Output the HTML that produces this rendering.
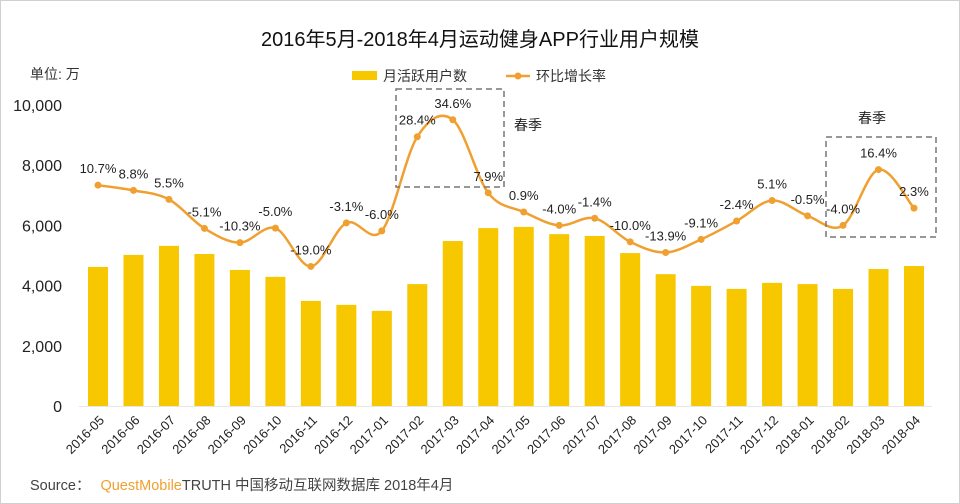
<!DOCTYPE html>
<html><head><meta charset="utf-8"><style>
body{margin:0;background:#fff;}
svg{display:block;font-family:"Liberation Sans","Noto Sans CJK SC",sans-serif;}
</style></head><body>
<svg id="c" width="960" height="504">
<rect x="0.5" y="0.5" width="959" height="503" fill="#fff" stroke="#d0d0d0"/>
<text x="480" y="46" text-anchor="middle" font-size="20" fill="#111">2016年5月-2018年4月运动健身APP行业用户规模</text>
<text x="30" y="79" font-size="14" fill="#333">单位: 万</text>
<g>
<rect x="352" y="71" width="25" height="9" fill="#f7c700"/>
<text x="383" y="81" font-size="14" fill="#333">月活跃用户数</text>
<line x1="506" y1="76" x2="530" y2="76" stroke="#f0a030" stroke-width="2.5"/>
<circle cx="518" cy="76" r="3.5" fill="#f0a030"/>
<text x="536" y="81" font-size="14" fill="#333">环比增长率</text>
</g>
<g id="g"></g>
<text x="30" y="490" font-size="14.5" fill="#444">Source：<tspan fill="#f0a030" dx="10">QuestMobile</tspan><tspan>TRUTH 中国移动互联网数据库 2018年4月</tspan></text>
</svg>
<script>
const categories=["2016-05","2016-06","2016-07","2016-08","2016-09","2016-10","2016-11","2016-12","2017-01","2017-02","2017-03","2017-04","2017-05","2017-06","2017-07","2017-08","2017-09","2017-10","2017-11","2017-12","2018-01","2018-02","2018-03","2018-04"];
const mau=[4620,5020,5320,5050,4520,4290,3490,3360,3160,4050,5480,5910,5950,5710,5650,5080,4380,3990,3890,4090,4050,3890,4550,4650];
const growth=[10.7,8.8,5.5,-5.1,-10.3,-5.0,-19.0,-3.1,-6.0,28.4,34.6,7.9,0.9,-4.0,-1.4,-10.0,-13.9,-9.1,-2.4,5.1,-0.5,-4.0,16.4,2.3];
const yTicks=[0,2000,4000,6000,8000,10000];
const NS="http://www.w3.org/2000/svg";
const g=document.getElementById('g');
const yTop=105,yBot=406,x0=98,step=(914-98)/23;
const x=i=>x0+i*step;
const y=v=>yBot-(v/10000)*(yBot-yTop);
const y2=r=>yBot-((r+70)/110)*(yBot-yTop);
function el(t,a){const e=document.createElementNS(NS,t);for(const k in a)e.setAttribute(k,a[k]);g.appendChild(e);return e;}
let bx=el('line',{x1:79,y1:yBot+0.5,x2:932,y2:yBot+0.5,stroke:'#e6e6e6'});


yTicks.forEach(v=>{const t=el('text',{x:62,y:y(v)+6,'text-anchor':'end','font-size':16,fill:'#222'});t.textContent=v.toLocaleString('en-US');

});
mau.forEach((v,i)=>{const r=el('rect',{x:x(i)-10,y:y(v),width:20,height:yBot-y(v),fill:'#f7c700'});


const t=el('text',{transform:`translate(${x(i)+7},${yBot+15}) rotate(-45)`,'text-anchor':'end','font-size':13,fill:'#222'});t.textContent=categories[i];

});
const pts=growth.map((r,i)=>[x(i),y2(r)]);
let d=`M${pts[0][0]},${pts[0][1]}`;
for(let i=0;i<pts.length-1;i++){const p0=pts[Math.max(0,i-1)],p1=pts[i],p2=pts[i+1],p3=pts[Math.min(pts.length-1,i+2)];
d+=` C${p1[0]+(p2[0]-p0[0])/6},${p1[1]+(p2[1]-p0[1])/6} ${p2[0]-(p3[0]-p1[0])/6},${p2[1]-(p3[1]-p1[1])/6} ${p2[0]},${p2[1]}`;}
const ln=el('path',{d:d,fill:'none',stroke:'#f0a030','stroke-width':2.5});


growth.forEach((r,i)=>{const c=el('circle',{cx:x(i),cy:y2(r),r:3.5,fill:'#f0a030'});


const t=el('text',{x:x(i),y:y2(r)-12,'text-anchor':'middle','font-size':13,fill:'#222'});t.textContent=r.toFixed(1)+'%';

});
const b1=el('rect',{x:396,y:89,width:108,height:98,fill:'none',stroke:'#777','stroke-width':1.5,'stroke-dasharray':'6,4'});


const b2=el('rect',{x:826,y:137,width:110,height:100,fill:'none',stroke:'#777','stroke-width':1.5,'stroke-dasharray':'6,4'});


const s1=el('text',{x:514,y:130,'font-size':14,fill:'#222'});s1.textContent='春季';


const s2=el('text',{x:858,y:123,'font-size':14,fill:'#222'});s2.textContent='春季';


</script>
</body></html>
